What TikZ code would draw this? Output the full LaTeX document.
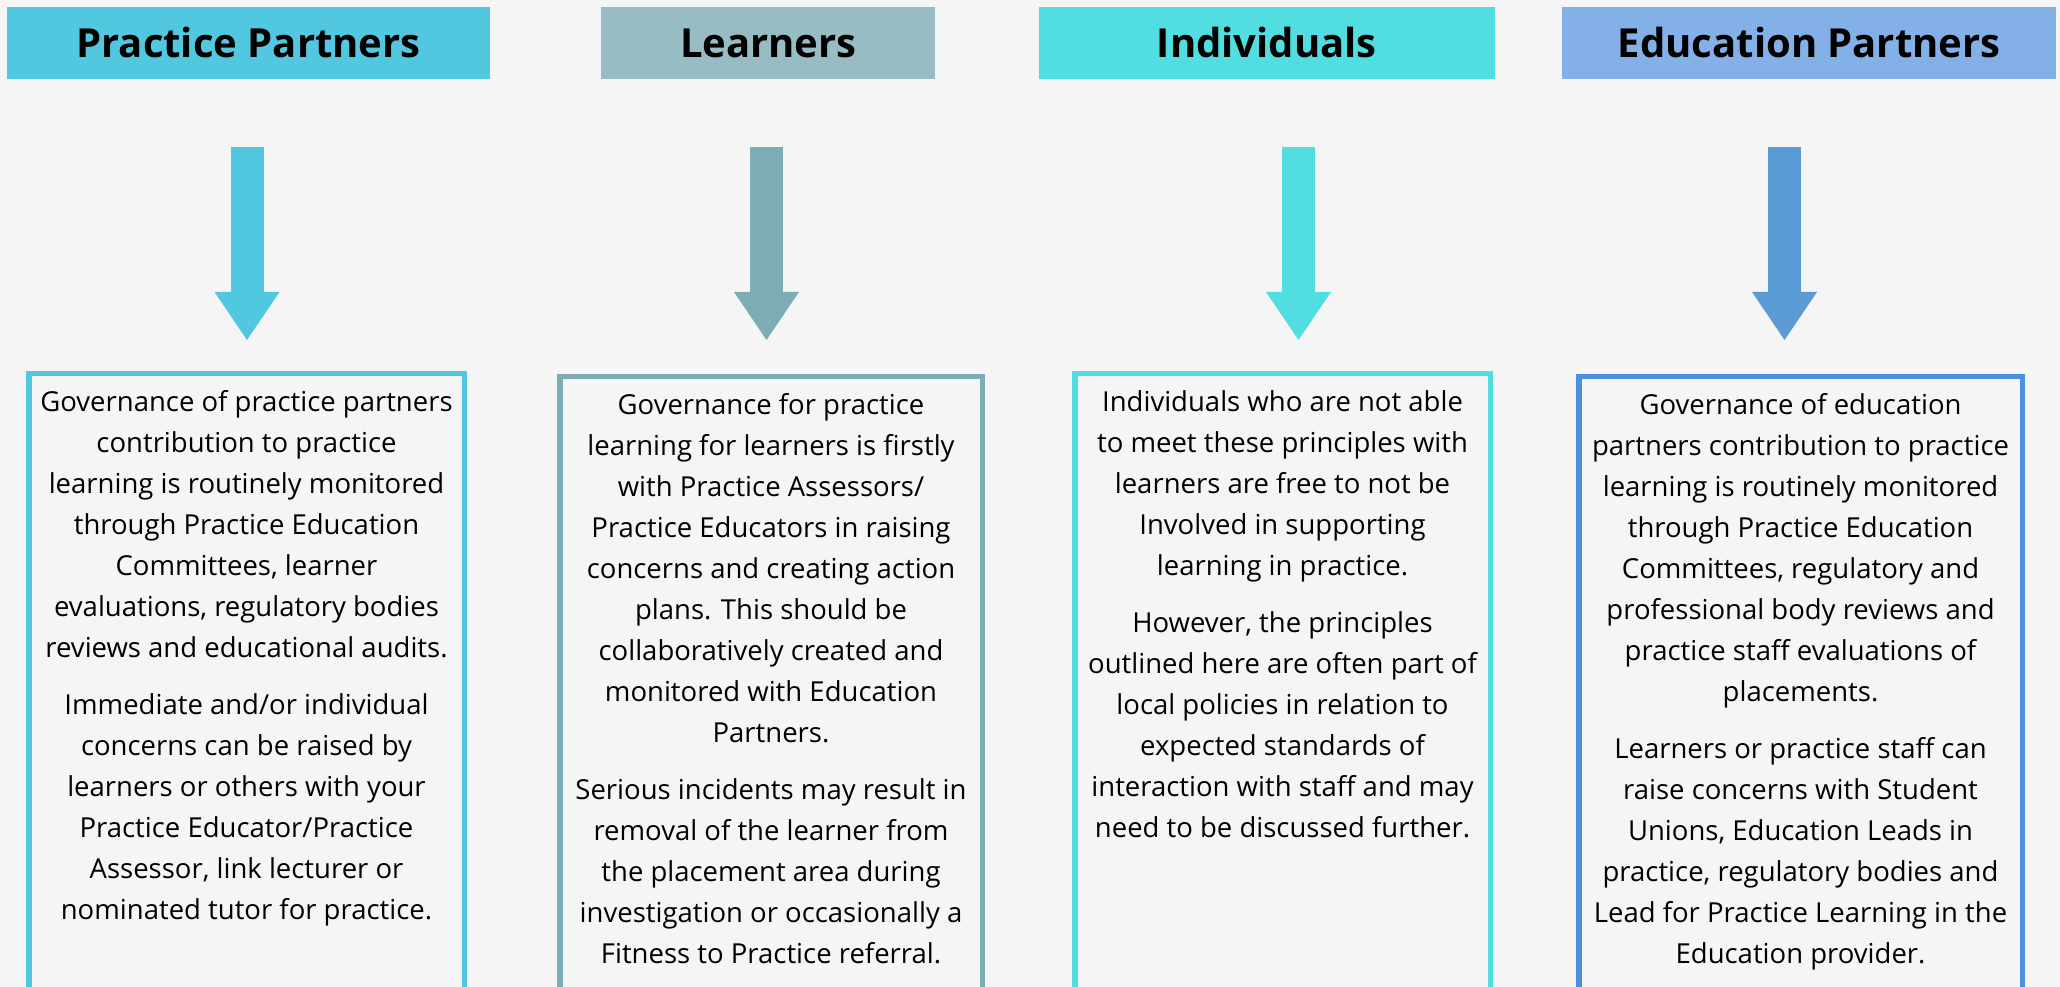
\documentclass[tikz,border=0pt]{standalone}
\usepackage{fontspec}
\setmainfont{Open Sans}
\usetikzlibrary{positioning,arrows.meta}

\definecolor{bgcol}{HTML}{F5F5F5}
\definecolor{ppcol}{HTML}{52C8E0}
\definecolor{lehead}{HTML}{98BCC4}
\definecolor{lecol}{HTML}{7EACB5}
\definecolor{incol}{HTML}{52DEE0}
\definecolor{ephead}{HTML}{84B0E8}
\definecolor{eparrow}{HTML}{5B9BD5}
\definecolor{epcol}{HTML}{4A8FE0}

\tikzset{
    head/.style={fill=#1, inner sep=0pt, minimum height=7.2mm,
        font=\bfseries\fontsize{4mm}{4.8mm}\selectfont, text height=2.9mm, text depth=0pt},
    panel/.style={draw=#1, line width=0.55mm, anchor=north, minimum height=80mm},
    body/.style={align=center, inner sep=0pt, font=\fontsize{2.75mm}{4.1mm}\selectfont},
    bigarrow/.style={draw=#1, line width=3.3mm,
        -{Triangle[width=6.5mm,length=4.8mm,line width=0pt]}},
}

\begin{document}
\begin{tikzpicture}
        [x=0.1mm, y=-0.1mm]
        \useasboundingbox (0,0) rectangle (2060,987);
        \fill[bgcol] (0,0) rectangle (2060,987);

        \node[head=ppcol, minimum width=48.3mm] (PP) at (248.5,43) {Practice Partners};
        \node[head=lehead, minimum width=33.4mm, right=11mm of PP] (LE) {Learners};
        \node[head=incol, minimum width=45.6mm, right=10.2mm of LE] (IN) {Individuals};
        \node[head=ephead, minimum width=49.4mm, right=6.6mm of IN] (EP) {Education Partners};

        \node[panel=ppcol, minimum width=43.55mm] (PPb) at (246.5,371) {};
        \node[panel=lecol, minimum width=42.25mm] (LEb) at (771,374) {};
        \node[panel=incol, minimum width=41.55mm] (INb) at (1282.5,371) {};
        \node[panel=epcol, minimum width=44.35mm] (EPb) at (1800.5,374) {};

        \node[body, below=1.9mm of PPb.north] (PPt) {Governance of practice partners\\
            contribution to practice\\ learning is routinely monitored\\
            through Practice Education\\ Committees, learner\\
            evaluations, regulatory bodies\\ reviews and educational audits.\\[1.6mm]
            Immediate and/or individual\\ concerns can be raised by\\
            learners or others with your\\ Practice Educator/Practice\\
            Assessor, link lecturer or\\ nominated tutor for practice.};
        \node[body, below=1.9mm of LEb.north] (LEt) {Governance for practice\\
            learning for learners is firstly\\ with Practice Assessors/\\
            Practice Educators in raising\\ concerns and creating action\\
            plans. This should be\\ collaboratively created and\\
            monitored with Education\\ Partners.\\[1.6mm]
            Serious incidents may result in\\ removal of the learner from\\
            the placement area during\\ investigation or occasionally a\\
            Fitness to Practice referral.};
        \node[body, below=1.9mm of INb.north] (INt) {Individuals who are not able\\
            to meet these principles with\\ learners are free to not be\\
            Involved in supporting\\ learning in practice.\\[1.6mm]
            However, the principles\\ outlined here are often part of\\
            local policies in relation to\\ expected standards of\\
            interaction with staff and may\\ need to be discussed further.};
        \node[body, below=1.9mm of EPb.north] (EPt) {Governance of education\\
            partners contribution to practice\\ learning is routinely monitored\\
            through Practice Education\\ Committees, regulatory and\\
            professional body reviews and\\ practice staff evaluations of\\
            placements.\\[1.6mm]
            Learners or practice staff can\\ raise concerns with Student\\
            Unions, Education Leads in\\ practice, regulatory bodies and\\
            Lead for Practice Learning in the\\ Education provider.};

        \coordinate (PPa) at (247,147);
        \coordinate (PPz) at (247,340);
        \coordinate (LEa) at (766.5,147);
        \coordinate (LEz) at (766.5,340);
        \coordinate (INa) at (1298.5,147);
        \coordinate (INz) at (1298.5,340);
        \coordinate (EPa) at (1784.5,147);
        \coordinate (EPz) at (1784.5,340);
        \draw[bigarrow=ppcol] (PPa) -- (PPz);
        \draw[bigarrow=lecol] (LEa) -- (LEz);
        \draw[bigarrow=incol] (INa) -- (INz);
        \draw[bigarrow=eparrow] (EPa) -- (EPz);
    \end{tikzpicture}
\end{document}
